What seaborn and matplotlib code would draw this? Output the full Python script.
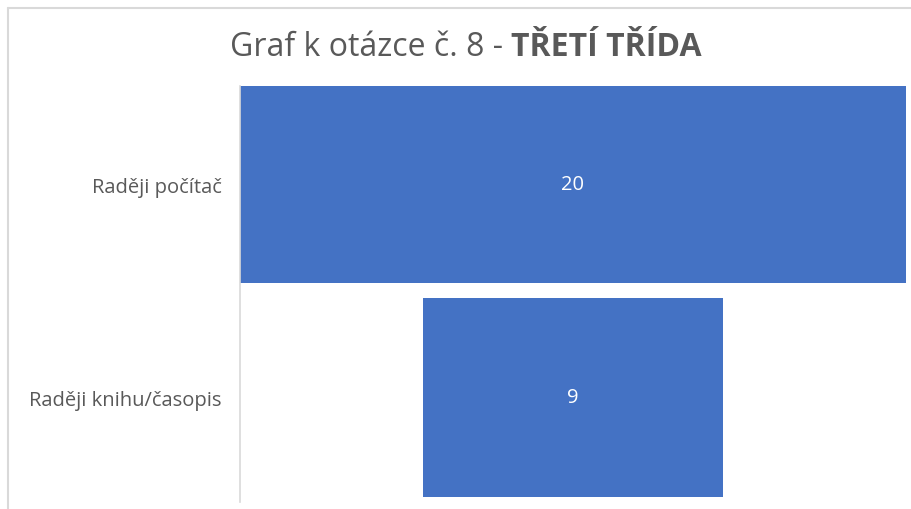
import matplotlib
matplotlib.use("Agg")
import matplotlib.pyplot as plt
import seaborn as sns
import pandas as pd
from matplotlib.lines import Line2D

categories = ["Raději počítač", "Raději knihu/časopis"]
values = [20, 9]
title_normal = "Graf k otázce č. 8 - "
title_bold = "TŘETÍ TŘÍDA"

sns.set_theme(style="white")
plt.rcParams["font.family"] = ["Open Sans", "DejaVu Sans"]

df = pd.DataFrame({"category": categories, "value": values})

fig = plt.figure(figsize=(9.12, 5.10), dpi=100)
W, H = 912, 510
ax = fig.add_axes([240 / W, 1 - 503 / H, 666 / W, (503 - 87) / H])

sns.barplot(data=df, x="value", y="category", orient="h", color="#4472C4",
            saturation=1, width=0.93, ax=ax, errorbar=None)

vmax = max(values)
# center bars (funnel)
for p, v in zip(ax.patches, values):
    p.set_x(-p.get_width() / 2)
    p.set_edgecolor("none")
    ax.text(0, p.get_y() + p.get_height() / 2, f"{v}", ha="center", va="center",
            color="white", fontsize=14.5)

ax.set_xlim(-vmax / 2, vmax / 2)
ax.set_ylim(1.49, -0.46)
ax.set_xlabel("")
ax.set_ylabel("")
ax.set_xticks([])
ax.tick_params(axis="y", length=0, pad=13, labelsize=14.5, labelcolor="#595959")
for s in ["top", "right", "bottom"]:
    ax.spines[s].set_visible(False)
ax.spines["left"].set_color("#d9d9d9")
ax.spines["left"].set_linewidth(1.2)

# chart border (top & left visible)
fig.add_artist(Line2D([8.5 / W, 1], [1 - 8.5 / H, 1 - 8.5 / H], color="#d9d9d9", lw=1.5))
fig.add_artist(Line2D([8.5 / W, 8.5 / W], [0, 1 - 8.5 / H], color="#d9d9d9", lw=1.5))

# title with mixed weights
fig.canvas.draw()
r = fig.canvas.get_renderer()
t1 = fig.text(0, 1 - 47 / H, title_normal, fontsize=23, color="#595959", va="center")
t2 = fig.text(0, 1 - 47 / H, title_bold, fontsize=23, color="#595959", va="center",
              fontweight="bold")
w1 = t1.get_window_extent(r).width
w2 = t2.get_window_extent(r).width
cx = 466
x0 = cx - (w1 + w2) / 2
t1.set_x(x0 / W)
t2.set_x((x0 + w1) / W)

fig.savefig("out.png", dpi=100, facecolor="white")
